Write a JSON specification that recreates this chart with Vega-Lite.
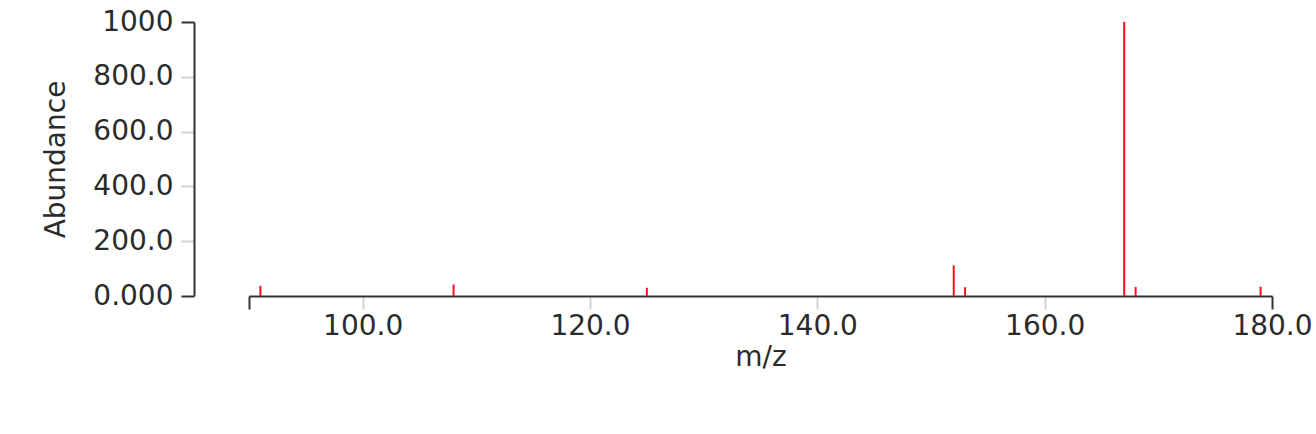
{
  "$schema": "https://vega.github.io/schema/vega-lite/v6.json",
  "autosize": "none",
  "width": 1023,
  "height": 274,
  "padding": {"left": 249, "top": 22, "right": 44, "bottom": 138},
  "background": "white",
  "config": {
    "view": {"stroke": null},
    "font": "DejaVu Sans",
    "axis": {
      "labelFont": "DejaVu Sans",
      "titleFont": "DejaVu Sans",
      "labelFontSize": 28,
      "titleFontSize": 28,
      "titleFontWeight": "normal",
      "labelColor": "#2b2b2b",
      "titleColor": "#2b2b2b",
      "domainColor": "#333333",
      "domainWidth": 2,
      "tickWidth": 2,
      "tickSize": 13,
      "grid": false
    }
  },
  "data": {
    "values": [
      {"mz": 91, "abundance": 37},
      {"mz": 108, "abundance": 42},
      {"mz": 125, "abundance": 30},
      {"mz": 152, "abundance": 112},
      {"mz": 153, "abundance": 32},
      {"mz": 167, "abundance": 1000},
      {"mz": 168, "abundance": 33},
      {"mz": 179, "abundance": 34}
    ]
  },
  "mark": {"type": "rule", "color": "#ff0a1a", "strokeWidth": 2},
  "encoding": {
    "x": {
      "field": "mz",
      "type": "quantitative",
      "scale": {"domain": [90, 180], "nice": false, "zero": false},
      "axis": {
        "title": "m/z",
        "values": [90, 100, 120, 140, 160, 180],
        "labelExpr": "datum.value == 90 ? '' : format(datum.value, '.1f')",
        "tickColor": {"condition": {"test": "datum.value == 90 || datum.value == 180", "value": "#333333"}, "value": "#d3d3d3"},
        "labelPadding": 3,
        "titlePadding": 3,
        "labelFlush": false,
        "labelOverlap": false
      }
    },
    "y": {
      "field": "abundance",
      "type": "quantitative",
      "scale": {"domain": [0, 1000], "nice": false},
      "axis": {
        "title": "Abundance",
        "offset": 55,
        "values": [0, 200, 400, 600, 800, 1000],
        "labelExpr": "datum.value == 0 ? '0.000' : datum.value == 1000 ? '1000' : format(datum.value, '.1f')",
        "tickColor": {"condition": {"test": "datum.value == 0 || datum.value == 1000", "value": "#333333"}, "value": "#d3d3d3"},
        "labelPadding": 8,
        "titlePadding": 22,
        "labelFlush": false,
        "labelOverlap": false
      }
    },
    "y2": {"datum": 0}
  }
}
